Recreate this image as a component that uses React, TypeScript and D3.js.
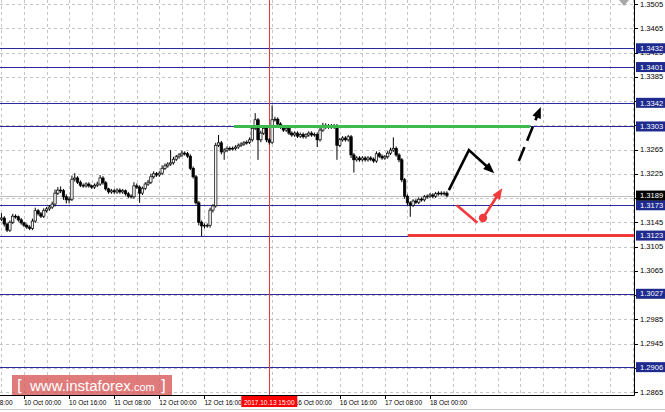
import React from 'react';
import * as d3 from 'd3';

// ---- data ----
const firstBar = -8; // bar index relative to 10 Oct 00:00 (H1 bars)
const firstOpen = 1.315;
const closes = [
  1.3152, 1.3142, 1.3132, 1.3145, 1.3155, 1.3154, 1.3149, 1.3144, 1.314, 1.3137,
  1.3135, 1.3147, 1.3164, 1.3159, 1.3155, 1.3164, 1.3167, 1.317, 1.3175, 1.3193,
  1.3198, 1.3197, 1.3187, 1.3182, 1.3183, 1.3216, 1.3218, 1.3211, 1.3206, 1.3205,
  1.3208, 1.3205, 1.3203, 1.3206, 1.3208, 1.3218, 1.321, 1.32, 1.3195, 1.3197,
  1.3195, 1.3198, 1.3195, 1.3197, 1.3192, 1.3188, 1.3187, 1.3205, 1.3203, 1.3193,
  1.3201, 1.3208, 1.3211, 1.322, 1.3225, 1.3223, 1.3226, 1.3234, 1.3238, 1.3241,
  1.3243, 1.3249, 1.3253, 1.3256, 1.3259, 1.3258, 1.3254, 1.3234, 1.322, 1.3177,
  1.3145, 1.3139, 1.314, 1.314, 1.3165, 1.3172, 1.3272, 1.3276, 1.3261, 1.3264,
  1.3267, 1.3266, 1.3267, 1.3269, 1.3272, 1.3274, 1.3276, 1.3277, 1.3281, 1.33,
  1.3314, 1.3281, 1.3292, 1.33, 1.3281, 1.3277, 1.3314, 1.3315, 1.3307, 1.3302,
  1.3297, 1.33, 1.3292, 1.3289, 1.3292, 1.3287, 1.329, 1.3286, 1.3289, 1.3292,
  1.3289, 1.329, 1.3281, 1.3297, 1.3305, 1.3302, 1.3304, 1.3302, 1.3304, 1.3272,
  1.3281, 1.3284, 1.3281, 1.3286, 1.3256, 1.3248, 1.3251, 1.3248, 1.3251, 1.3248,
  1.3251, 1.3249, 1.3246, 1.3258, 1.3254, 1.3251, 1.3253, 1.3259, 1.3264, 1.3267,
  1.3256, 1.3248, 1.3215, 1.3188, 1.3177, 1.3173, 1.318, 1.3178, 1.3183, 1.3182,
  1.3187, 1.3188, 1.319, 1.3188, 1.3192, 1.3193, 1.3192, 1.3193, 1.3189,
];
// wick lengths in pips above max(open, close) and below min(open, close)
const upperWickPips = [
  8, 3, 2, 3, 4, 3, 2, 3, 2, 3,
  3, 4, 5, 3, 3, 4, 3, 3, 4, 6,
  5, 6, 3, 4, 4, 6, 8, 3, 3, 3,
  3, 3, 2, 3, 4, 5, 3, 3, 2, 3,
  3, 3, 3, 3, 2, 3, 3, 6, 4, 3,
  3, 3, 4, 5, 4, 3, 3, 5, 4, 3,
  21, 4, 3, 3, 4, 3, 3, 3, 3, 3,
  3, 3, 3, 3, 4, 3, 4, 13, 3, 3,
  3, 3, 3, 3, 3, 3, 3, 3, 4, 5,
  11, 3, 4, 4, 3, 3, 24, 4, 3, 3,
  3, 3, 3, 3, 3, 3, 3, 3, 3, 3,
  3, 3, 3, 4, 4, 3, 3, 3, 3, 3,
  3, 3, 3, 3, 3, 3, 3, 3, 3, 3,
  3, 3, 3, 4, 3, 3, 3, 4, 4, 18,
  3, 3, 3, 3, 3, 3, 3, 3, 3, 3,
  3, 3, 3, 3, 3, 3, 3, 3, 3,
];
const lowerWickPips = [
  3, 4, 3, 3, 3, 3, 3, 3, 3, 3,
  3, 3, 3, 3, 3, 3, 3, 3, 3, 4,
  3, 4, 5, 6, 6, 3, 4, 3, 3, 3,
  3, 3, 3, 3, 3, 3, 3, 3, 3, 3,
  3, 3, 3, 3, 3, 3, 3, 3, 3, 16,
  3, 3, 3, 3, 3, 3, 3, 3, 3, 3,
  3, 3, 3, 3, 3, 3, 3, 3, 3, 3,
  5, 17, 4, 4, 4, 4, 3, 3, 4, 13,
  3, 3, 3, 3, 3, 3, 3, 3, 3, 3,
  3, 33, 4, 3, 4, 4, 3, 3, 3, 3,
  3, 3, 3, 3, 3, 3, 3, 3, 3, 3,
  3, 3, 12, 3, 3, 3, 3, 3, 3, 24,
  3, 3, 3, 3, 5, 21, 3, 3, 3, 3,
  3, 3, 3, 3, 3, 3, 3, 3, 3, 3,
  3, 4, 4, 4, 4, 19, 3, 3, 3, 3,
  3, 3, 3, 3, 3, 3, 3, 3, 3,
];

// grid / tick prices; labels hidden behind the highlighted boxes are not written
const priceTicks = [
  1.3505, 1.3465, 1.3425, 1.3385, 1.3345, 1.3305, 1.3265, 1.3225, 1.3185,
  1.3145, 1.3105, 1.3065, 1.3025, 1.2985, 1.2945, 1.2905, 1.2865,
];
const priceTickLabels = [
  1.3505, 1.3465, 1.3425, 1.3385, 1.3265, 1.3225, 1.3145, 1.3105, 1.3065, 1.2985, 1.2945, 1.2865,
];
const levelPrices = [1.3432, 1.3401, 1.3342, 1.3303, 1.3173, 1.3123, 1.3027, 1.2906];
const bidPrice = 1.3189;

const timeTicks = [-16, 0, 16, 32, 48, 64, 80, 96, 112, 128, 144];
const timeLabels = [
  { bar: -16, text: '9 Oct 08:00' },
  { bar: 0, text: '10 Oct 00:00' },
  { bar: 16, text: '10 Oct 16:00' },
  { bar: 32, text: '11 Oct 08:00' },
  { bar: 48, text: '12 Oct 00:00' },
  { bar: 64, text: '12 Oct 16:00' },
  { bar: 96, text: '16 Oct 00:00' },
  { bar: 112, text: '16 Oct 16:00' },
  { bar: 128, text: '17 Oct 08:00' },
  { bar: 144, text: '18 Oct 00:00' },
];
const markerBar = 87;
const markerText = '2017.10.13 15:00';

const greenLine = { price: 1.3303, from: 74.5, to: 179.5 };
const redLine = { price: 1.3123, from: 136.2, to: 230 };

const blackPath: [number, number][] = [[150.7, 1.3198], [157.8, 1.3264], [166.8, 1.3226]];
const blackDashed: [number, number][] = [[175.5, 1.3246], [183.3, 1.3335]];
const redSegment: [number, number][] = [[153.5, 1.3173], [160.8, 1.3144]];
const redDot: [number, number] = [162.8, 1.3152];
const redArrow: [number, number][] = [[162.8, 1.3152], [169.6, 1.3201]];

// ---- layout ----
const W = 665;
const H = 412;
const plotRight = 634;
const plotBottom = 395;

const x = d3.scaleLinear().domain([0, 144]).range([24, 430]);
const y = d3.scaleLinear().domain([1.2865, 1.3505]).range([392, 4]);

const NAVY = '#2a2a9c';
const FONT = "'Liberation Sans', Arial, sans-serif";

function arrowHead(p0: [number, number], p1: [number, number], len = 11, half = 4.5) {
  const dx = p1[0] - p0[0];
  const dy = p1[1] - p0[1];
  const d = Math.hypot(dx, dy);
  const ux = dx / d, uy = dy / d;
  const bx = p1[0] - ux * len, by = p1[1] - uy * len;
  return `${p1[0]},${p1[1]} ${bx - uy * half},${by + ux * half} ${bx + uy * half},${by - ux * half}`;
}

export default function App() {
  const bars = closes.map((c, k) => {
    const o = k === 0 ? firstOpen : closes[k - 1];
    const hi = Math.max(o, c) + upperWickPips[k] * 0.0001;
    const lo = Math.min(o, c) - lowerWickPips[k] * 0.0001;
    return { i: firstBar + k, o, c, hi, lo };
  });

  const gridX: number[] = [];
  for (let b = -24; x(b) < plotRight; b += 8) gridX.push(x(b));

  const pt = (p: [number, number]): [number, number] => [x(p[0]), y(p[1])];
  const line = d3.line<[number, number]>().x((d) => x(d[0])).y((d) => y(d[1]));

  const bp = blackPath.map(pt);
  const bd = blackDashed.map(pt);
  const ra = redArrow.map(pt);
  const shorten = (a: [number, number], b: [number, number], s: number): [number, number] => {
    const d = Math.hypot(b[0] - a[0], b[1] - a[1]);
    return [b[0] - ((b[0] - a[0]) / d) * s, b[1] - ((b[1] - a[1]) / d) * s];
  };
  const snap = (v: number) => Math.round(v) + 0.5;

  return (
    <div style={{ position: 'absolute', left: 0, top: 0 }}>
      <svg width={W} height={H} style={{ display: 'block', background: '#fff' }} fontFamily={FONT}>
        <defs>
          <clipPath id="plot">
            <rect x={0} y={0} width={plotRight} height={plotBottom} />
          </clipPath>
        </defs>
        {/* grid */}
        <g stroke="#c4c4c4" strokeWidth={1} strokeDasharray="3,3">
          {priceTicks.map((p) => (
            <line key={p} x1={0} x2={plotRight} y1={snap(y(p))} y2={snap(y(p))} />
          ))}
          {gridX.map((gx) => (
            <line key={gx} x1={snap(gx)} x2={snap(gx)} y1={0} y2={plotBottom} />
          ))}
        </g>

        <g clipPath="url(#plot)">
          <line x1={0} x2={plotRight} y1={snap(y(bidPrice))} y2={snap(y(bidPrice))} stroke="#bdbdbd" />
          {levelPrices.map((p) => (
            <line key={p} x1={0} x2={plotRight} y1={snap(y(p))} y2={snap(y(p))} stroke={NAVY} strokeWidth={1} />
          ))}
          <line x1={snap(x(markerBar))} x2={snap(x(markerBar))} y1={0} y2={plotBottom} stroke="#e8383a" strokeWidth={1} />

          {/* candles */}
          {bars.map((b) => {
            const cx = x(b.i);
            const top = y(Math.max(b.o, b.c));
            const bot = y(Math.min(b.o, b.c));
            const bull = b.c >= b.o;
            return (
              <g key={b.i}>
                <line x1={cx} x2={cx} y1={y(b.hi)} y2={y(b.lo)} stroke="#000" strokeWidth={1} />
                <rect
                  x={cx - 1.2}
                  y={top}
                  width={2.4}
                  height={Math.max(bot - top, 0.8)}
                  fill={bull ? '#f4f4f4' : '#000'}
                  stroke="#000"
                  strokeWidth={0.7}
                />
              </g>
            );
          })}

          <line x1={x(greenLine.from)} x2={x(greenLine.to)} y1={y(greenLine.price)} y2={y(greenLine.price)} stroke="#3dba4e" strokeWidth={3} />
          <line x1={x(redLine.from)} x2={x(redLine.to)} y1={y(redLine.price)} y2={y(redLine.price)} stroke="#f2393b" strokeWidth={3} />

          {/* forecast arrows */}
          <path
            d={line([blackPath[0], blackPath[1]]) + 'L' + shorten(bp[1], bp[2], 8).join(',')}
            fill="none"
            stroke="#000"
            strokeWidth={2.6}
          />
          <polygon points={arrowHead(bp[1], bp[2])} fill="#000" />
          <line
            x1={bd[0][0]}
            y1={bd[0][1]}
            x2={shorten(bd[0], bd[1], 8)[0]}
            y2={shorten(bd[0], bd[1], 8)[1]}
            stroke="#000"
            strokeWidth={2.6}
            strokeDasharray="15,7"
          />
          <polygon points={arrowHead(bd[0], bd[1])} fill="#000" />
          <path d={line(redSegment) || ''} fill="none" stroke="#f2393b" strokeWidth={2.6} />
          <line x1={ra[0][0]} y1={ra[0][1]} x2={shorten(ra[0], ra[1], 8)[0]} y2={shorten(ra[0], ra[1], 8)[1]} stroke="#f2393b" strokeWidth={2.6} />
          <polygon points={arrowHead(ra[0], ra[1])} fill="#f2393b" />
          <circle cx={x(redDot[0])} cy={y(redDot[1])} r={4.2} fill="#f2393b" />
        </g>

        {/* shift marker */}
        <polygon points="619,0 629,0 624,6" fill="#a8a8a8" />

        {/* frame */}
        <line x1={plotRight + 0.5} x2={plotRight + 0.5} y1={0} y2={plotBottom + 0.5} stroke="#000" />
        <line x1={0} x2={plotRight + 0.5} y1={plotBottom + 0.5} y2={plotBottom + 0.5} stroke="#000" />
        <line x1={0} x2={W} y1={409.5} y2={409.5} stroke="#c8c8c8" />

        {/* right axis */}
        {priceTicks.map((p) => (
          <line key={p} x1={plotRight} x2={plotRight + 4} y1={snap(y(p))} y2={snap(y(p))} stroke="#000" />
        ))}
        {priceTickLabels.map((p) => (
          <text key={p} x={640} y={y(p) + 2.7} fontSize={7.6} fill="#000">
            {p.toFixed(4)}
          </text>
        ))}
        {levelPrices.map((p) => (
          <g key={p}>
            <rect x={636} y={y(p) - 5} width={29} height={10} fill="#1e2a8e" />
            <text x={640} y={y(p) + 2.7} fontSize={7.6} fill="#fff">
              {p.toFixed(4)}
            </text>
          </g>
        ))}
        <rect x={636} y={y(bidPrice) - 5} width={29} height={10} fill="#000" />
        <text x={640} y={y(bidPrice) + 2.7} fontSize={7.6} fill="#fff">
          {bidPrice.toFixed(4)}
        </text>

        {/* time axis */}
        {timeTicks.map((b) => (
          <line key={b} x1={snap(x(b))} x2={snap(x(b))} y1={plotBottom} y2={plotBottom + 4} stroke="#000" />
        ))}
        {timeLabels.map((t) => (
          <text key={t.bar} x={x(t.bar)} y={405} fontSize={6.5} fill="#000">
            {t.text}
          </text>
        ))}
        <rect x={x(markerBar) - 28} y={396} width={56} height={11} fill="#ff0000" />
        <text x={x(markerBar)} y={404.5} fontSize={6.5} fill="#fff" textAnchor="middle">
          {markerText}
        </text>

        {/* watermark */}
        <rect x={12} y={375} width={160} height={20} fill="#d85a5a" opacity={0.8} />
        <text x={17} y={391} fontSize={15} fill="#fff" fontFamily="'DejaVu Sans', sans-serif">
          [
        </text>
        <text x={30} y={391} fontSize={15} fill="#fff" fontFamily="'Liberation Sans', Arial, sans-serif">
          www.instaforex
          <tspan fontSize={11}>.com</tspan>
        </text>
        <text x={160} y={391} fontSize={15} fill="#fff" fontFamily="'DejaVu Sans', sans-serif">
          ]
        </text>
      </svg>
    </div>
  );
}
